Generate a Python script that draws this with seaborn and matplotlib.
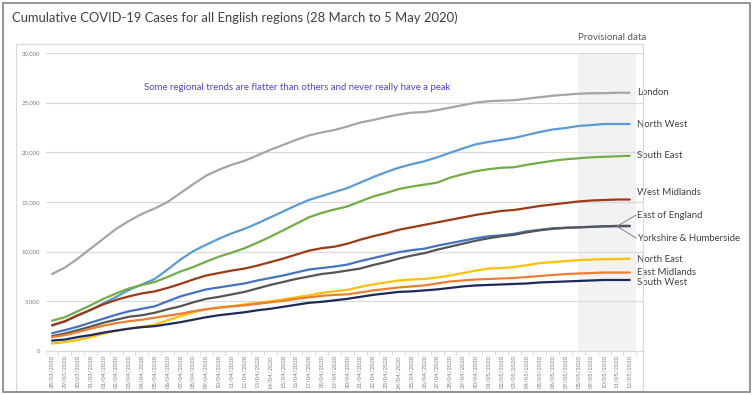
import numpy as np
import pandas as pd
import matplotlib
matplotlib.use("Agg")
import matplotlib.pyplot as plt
import seaborn as sns
from matplotlib.patches import Rectangle

# ---------------- data ----------------
dates = pd.date_range("2020-03-28", "2020-05-12").strftime("%d/%m/%Y").tolist()

london = [7750, 8400, 9300, 10300, 11300, 12300, 13100, 13800, 14350, 15000,
          15900, 16800, 17650, 18250, 18750, 19150, 19700, 20250, 20750, 21250,
          21700, 22000, 22250, 22600, 23000, 23250, 23550, 23800, 24000, 24050,
          24250, 24500, 24750, 25000, 25150, 25200, 25250, 25400, 25550, 25700,
          25800, 25900, 25950, 25950, 26000, 26000]
north_west = [2550, 2950, 3550, 4100, 4800, 5450, 6150, 6700, 7250, 8200,
              9200, 10050, 10700, 11300, 11850, 12300, 12850, 13450, 14050, 14650,
              15200, 15600, 16000, 16400, 16950, 17500, 18000, 18450, 18800, 19100,
              19500, 19950, 20400, 20800, 21050, 21250, 21450, 21750, 22050, 22300,
              22450, 22650, 22750, 22850, 22850, 22850]
south_east = [3050, 3400, 4000, 4600, 5250, 5800, 6300, 6650, 6950, 7450,
              8000, 8450, 9000, 9500, 9900, 10350, 10900, 11500, 12150, 12800,
              13450, 13900, 14250, 14550, 15050, 15550, 15900, 16300, 16550, 16750,
              16950, 17450, 17800, 18100, 18300, 18450, 18500, 18750, 18950, 19150,
              19300, 19400, 19500, 19550, 19600, 19650]
west_midlands = [2600, 3000, 3600, 4150, 4700, 5150, 5500, 5800, 6000, 6350,
                 6750, 7200, 7600, 7850, 8100, 8300, 8600, 8950, 9300, 9700,
                 10100, 10350, 10500, 10800, 11200, 11550, 11850, 12200, 12450, 12700,
                 12950, 13200, 13450, 13700, 13900, 14100, 14200, 14400, 14600, 14750,
                 14900, 15050, 15150, 15200, 15250, 15250]
east_of_england = [1800, 2100, 2450, 2850, 3250, 3650, 4000, 4250, 4500, 5000,
                   5500, 5850, 6200, 6400, 6600, 6800, 7100, 7350, 7600, 7900,
                   8200, 8350, 8500, 8700, 9050, 9350, 9650, 9950, 10150, 10300,
                   10600, 10850, 11100, 11350, 11550, 11650, 11800, 12050, 12200, 12350,
                   12400, 12450, 12500, 12550, 12550, 12550]
yorkshire = [1500, 1750, 2100, 2450, 2850, 3150, 3450, 3600, 3850, 4200,
             4500, 4900, 5250, 5450, 5700, 5950, 6300, 6650, 6950, 7250,
             7500, 7750, 7900, 8100, 8300, 8650, 8950, 9300, 9600, 9850,
             10200, 10500, 10800, 11100, 11350, 11550, 11700, 11950, 12150, 12300,
             12400, 12450, 12500, 12550, 12600, 12600]
north_east = [750, 900, 1100, 1400, 1750, 2050, 2250, 2450, 2650, 3100,
              3500, 3900, 4200, 4400, 4500, 4700, 4850, 5000, 5200, 5400,
              5600, 5850, 6000, 6150, 6450, 6700, 6900, 7100, 7200, 7250,
              7400, 7600, 7850, 8100, 8300, 8350, 8450, 8650, 8850, 8950,
              9050, 9150, 9200, 9250, 9250, 9300]
east_midlands = [1400, 1600, 1900, 2250, 2550, 2800, 3000, 3150, 3350, 3550,
                 3750, 4000, 4200, 4350, 4500, 4600, 4750, 4900, 5050, 5250,
                 5400, 5550, 5650, 5700, 5900, 6100, 6250, 6400, 6500, 6600,
                 6800, 7000, 7100, 7200, 7250, 7300, 7350, 7450, 7550, 7650,
                 7750, 7800, 7850, 7900, 7900, 7900]
south_west = [1050, 1150, 1400, 1600, 1850, 2050, 2250, 2400, 2500, 2700,
              2900, 3150, 3400, 3600, 3750, 3900, 4100, 4250, 4450, 4650,
              4850, 4950, 5100, 5250, 5450, 5650, 5800, 5950, 6000, 6100,
              6200, 6350, 6500, 6600, 6650, 6700, 6750, 6800, 6900, 6950,
              7000, 7050, 7100, 7150, 7150, 7150]

regions = ["London", "North West", "South East", "West Midlands", "East of England",
           "Yorkshire & Humberside", "North East", "East Midlands", "South West"]
series = [london, north_west, south_east, west_midlands, east_of_england,
          yorkshire, north_east, east_midlands, south_west]
colors = ["#A5A5A5", "#5B9BD5", "#70AD47", "#9C3A14", "#4472C4",
          "#555555", "#FFC000", "#ED7D31", "#1B2A5A"]
# label y positions (layout)
label_y = [26070, 22850, 19730, 16000, 13690, 11370, 9260, 7950, 6850]

title = "Cumulative COVID-19 Cases for all English regions (28 March to 5 May 2020)"
note = "Some regional trends are flatter than others and never really have a peak"

rows = []
for r, vals in zip(regions, series):
    for i, v in enumerate(vals):
        rows.append({"idx": i, "date": dates[i], "region": r, "cases": v})
df = pd.DataFrame(rows)

# ---------------- plot ----------------
sns.set_theme(style="white")
plt.rcParams["font.family"] = ["Lato", "DejaVu Sans"]

W, H = 754, 395
fig = plt.figure(figsize=(W / 100, H / 100), dpi=100)
fig.patch.set_facecolor("white")
ax = fig.add_axes([45.6 / W, 1 - 351 / H, (643 - 45.6) / W, (351 - 53) / H])

ax.axvspan(41, 45.5, color="#F2F2F2", lw=0, zorder=0)
for yv in range(5000, 30001, 5000):
    ax.axhline(yv, color="#D9D9D9", lw=0.9, zorder=0.5)

sns.lineplot(data=df, x="idx", y="cases", hue="region", hue_order=regions,
             palette=dict(zip(regions, colors)), linewidth=1.6, legend=False,
             ax=ax, zorder=3)

ax.set_xlim(-0.5, 46.03)
ax.set_ylim(0, 30000)
ax.set_xlabel("")
ax.set_ylabel("")
for s in ["top", "right", "left"]:
    ax.spines[s].set_visible(False)
ax.spines["bottom"].set_color("#D9D9D9")
ax.spines["bottom"].set_linewidth(0.9)

ax.set_xticks(range(len(dates)))
ax.set_xticklabels(dates, rotation=90, fontsize=4.3, color="#808080")
ax.set_xticks(np.arange(-0.5, len(dates), 1), minor=True)
ax.tick_params(axis="x", which="major", length=0, pad=3)
ax.tick_params(axis="x", which="minor", length=3, color="#D9D9D9", width=0.7, bottom=True)
ax.set_yticks(range(0, 30001, 5000))
ax.set_yticklabels([f"{v:,}" for v in range(0, 30001, 5000)], fontsize=4.3, color="#808080")
ax.tick_params(axis="y", length=0, pad=4)

for r, c, ly in zip(regions, colors, label_y):
    ax.text(45.6, ly, r, fontsize=6.9, color="#404040", va="center", ha="left", clip_on=False)

# leader lines for the two merged series
x0 = 44
y0 = east_of_england[x0]
ax.plot([x0, 45.5], [y0, 13690], color="#808080", lw=0.7, zorder=4, clip_on=False)
ax.plot([x0, 45.5], [y0, 11370], color="#808080", lw=0.7, zorder=4, clip_on=False)

fig.text(12 / W, 1 - 18 / H, title, fontsize=9.4, color="#404040", va="center", ha="left")
fig.text(578 / W, 1 - 37 / H, "Provisional data", fontsize=7.0, color="#595959", va="center", ha="left")
fig.text(144 / W, 1 - 87 / H, note, fontsize=6.9, color="#5147C4", va="center", ha="left")

fig.add_artist(Rectangle((16 / W, 1 - 391 / H), (643 - 16) / W, (391 - 44) / H,
                         transform=fig.transFigure, fill=False, ec="#D9D9D9", lw=0.8))
fig.add_artist(Rectangle((3 / W, 3 / H), (750 - 3) / W, (392 - 3) / H,
                         transform=fig.transFigure, fill=False, ec="#8C8C8C", lw=1.3))

fig.savefig("out.png", dpi=100)
